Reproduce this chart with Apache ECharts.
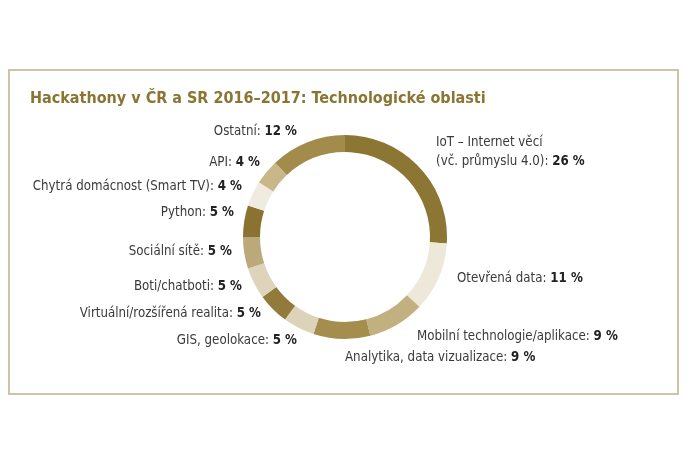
<!DOCTYPE html>
<html><head><meta charset="utf-8">
<script src="https://cdn.jsdelivr.net/npm/echarts@6/dist/echarts.min.js"></script>
<style>html,body{margin:0;padding:0;background:#fff}#c{width:690px;height:469px}</style>
</head><body><div id="c"></div>
<script>
var categories = ['IoT – Internet věcí\n(vč. průmyslu 4.0)', 'Otevřená data', 'Mobilní technologie/aplikace', 'Analytika, data vizualizace', 'GIS, geolokace', 'Virtuální/rozšířená realita', 'Boti/chatboti', 'Sociální sítě', 'Python', 'Chytrá domácnost (Smart TV)', 'API', 'Ostatní'];
var values = [26, 11, 9, 9, 5, 5, 5, 5, 5, 4, 4, 12];
var colors = ['#8c7634', '#eee8da', '#c3b080', '#a58d4d', '#ddd3b9', '#917a3a', '#ddd4bb', '#bca97a', '#8a7330', '#f0ebe0', '#c9b78a', '#a38b4b'];
// label anchor positions [x, y, align]
var labelPos = [[436, 152, 'left'], [457, 279, 'left'], [417, 337, 'left'], [345, 358, 'left'], [297, 341, 'right'], [261, 314, 'right'], [242, 287, 'right'], [232, 252, 'right'], [234, 213, 'right'], [242, 187, 'right'], [260, 163, 'right'], [297, 132, 'right']];

var FONT = '"DejaVu Sans Condensed", "DejaVu Sans", sans-serif';
var chart = echarts.init(document.getElementById('c'));
chart.setOption({
  backgroundColor: '#fff',
  animation: false,
  title: {
    text: 'Hackathony v ČR a SR 2016–2017: Technologické oblasti',
    left: 30, top: 91, padding: 0,
    textStyle: { color: '#8b7533', fontSize: 16, fontWeight: 'bold', fontFamily: FONT }
  },
  graphic: [{
    type: 'rect', shape: { x: 9, y: 70, width: 669, height: 324 },
    style: { fill: 'none', stroke: '#cbc4a5', lineWidth: 2 }, z: -1
  }],
  series: [{
    type: 'pie',
    center: [345, 237],
    radius: [85, 102],
    startAngle: 90,
    clockwise: true,
    avoidLabelOverlap: false,
    itemStyle: { borderWidth: 0 },
    labelLine: { show: false },
    emphasis: { disabled: true },
    label: {
      show: true,
      position: 'outside',
      fontFamily: FONT,
      formatter: function (p) {
        var lines = p.name.split('\n');
        var s = '';
        for (var i = 0; i < lines.length; i++) {
          if (i < lines.length - 1) s += '{n|' + lines[i] + '}\n';
          else s += '{n|' + lines[i] + ': }{v|' + p.value + ' %}';
        }
        return s;
      },
      rich: {
        n: { fontSize: 13.2, color: '#3a3a3a', fontFamily: FONT, lineHeight: 19 },
        v: { fontSize: 13.2, color: '#222', fontWeight: 'bold', fontFamily: FONT, lineHeight: 19 }
      }
    },
    labelLayout: function (p) {
      var lp = labelPos[p.dataIndex];
      return { x: lp[0], y: lp[1], align: lp[2], verticalAlign: 'middle' };
    },
    data: categories.map(function (c, i) {
      return { name: c, value: values[i], itemStyle: { color: colors[i] } };
    })
  }]
});
</script></body></html>
